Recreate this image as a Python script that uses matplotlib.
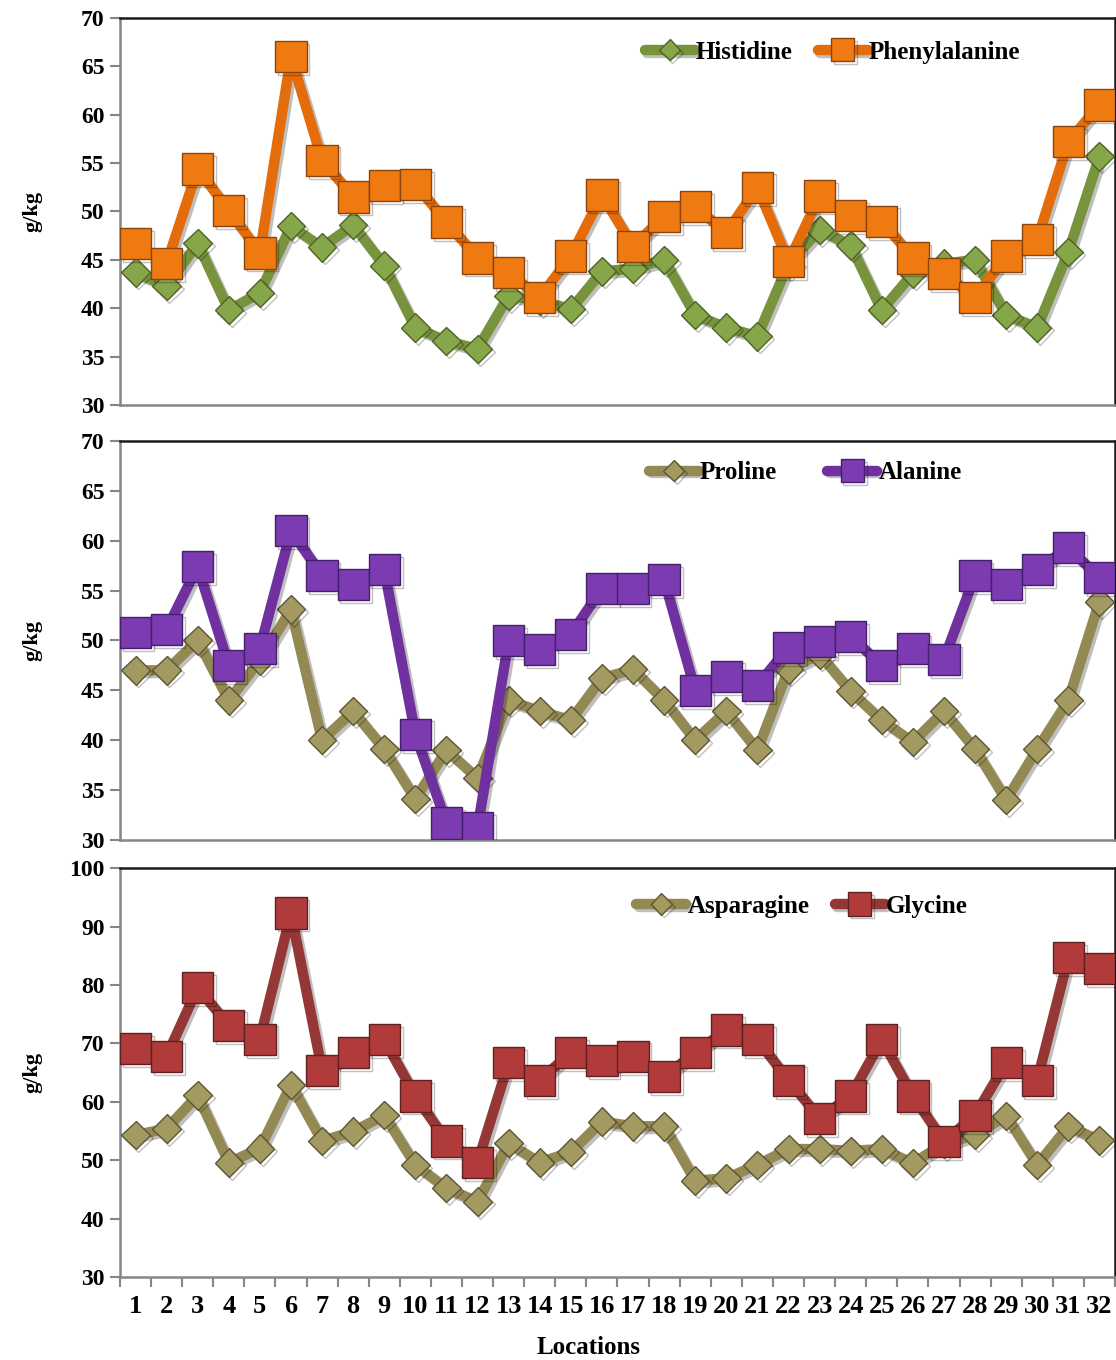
import numpy as np
import matplotlib.pyplot as plt
import matplotlib.patheffects as pe

locations = list(range(1, 33))

histidine = [43.7, 42.3, 46.7, 39.8, 41.6, 48.5, 46.3, 48.6, 44.4, 38.0, 36.6, 35.8,
             41.3, 40.8, 39.9, 43.8, 44.1, 45.0, 39.3, 38.0, 37.1, 44.6, 48.1, 46.5,
             39.8, 43.6, 44.6, 45.0, 39.3, 38.0, 45.8, 55.7]
phenylalanine = [46.7, 44.6, 54.4, 50.1, 45.7, 66.0, 55.3, 51.5, 52.7, 52.8, 48.9, 45.2,
                 43.7, 41.1, 45.4, 51.7, 46.4, 49.5, 50.5, 47.8, 52.5, 44.8, 51.6, 49.6,
                 49.0, 45.2, 43.6, 41.1, 45.4, 47.1, 57.2, 61.0]
proline = [47.0, 47.0, 50.0, 44.0, 48.0, 53.1, 40.0, 42.9, 39.1, 34.1, 39.0, 36.2,
           44.0, 42.9, 42.0, 46.2, 47.1, 44.0, 40.0, 42.9, 39.0, 47.1, 48.6, 44.9,
           42.0, 39.8, 42.9, 39.1, 34.0, 39.1, 44.0, 53.9]
alanine = [50.8, 51.1, 57.4, 47.5, 49.2, 61.0, 56.5, 55.6, 57.1, 40.6, 31.7, 31.2,
           50.0, 49.1, 50.6, 55.2, 55.2, 56.1, 45.0, 46.4, 45.5, 49.3, 49.9, 50.4,
           47.5, 49.2, 48.1, 56.5, 55.6, 57.1, 59.3, 56.3]
asparagine = [54.3, 55.4, 61.1, 49.6, 52.0, 62.9, 53.3, 54.9, 57.7, 49.2, 45.2, 42.9,
              52.9, 49.6, 51.4, 56.6, 55.8, 55.8, 46.5, 46.9, 49.2, 51.9, 51.9, 51.6,
              51.9, 49.5, 52.8, 54.3, 57.6, 49.2, 55.8, 53.4]
glycine = [69.1, 67.8, 79.5, 73.1, 70.7, 92.3, 65.4, 68.4, 70.6, 61.0, 53.3, 49.6,
           66.7, 63.7, 68.4, 67.1, 67.8, 64.3, 68.4, 72.3, 70.6, 63.7, 57.2, 61.0,
           70.6, 61.0, 53.2, 57.7, 66.7, 63.7, 84.7, 82.8]

# (line, face, edge)
green = ('#77933c', '#86a64a', '#4f6228')
orange = ('#e46c0a', '#f07a12', '#8a4308')
tan = ('#938953', '#a39a62', '#5e5633')
purple = ('#7030a0', '#7c3bb0', '#44206a')
red = ('#953735', '#b03b3a', '#5e2020')

plt.rcParams['font.family'] = ['Liberation Serif', 'DejaVu Serif']
plt.rcParams['font.weight'] = 'bold'

fig = plt.figure(figsize=(11.16, 13.6), dpi=100)
left, width = 0.1075, 0.8916
ax1 = fig.add_axes([left, 0.7022, width, 0.2846])
ax2 = fig.add_axes([left, 0.3824, width, 0.2934])
ax3 = fig.add_axes([left, 0.0610, width, 0.3007])

shadow = [pe.SimpleLineShadow(offset=(2, -2), alpha=0.25), pe.Normal()]


def draw_panel(ax, s1, name1, c1, s2, name2, c2, ylim, ystep, leg_xy, colsp):
    ax.plot(locations, s1, color=c1[0], lw=7.5, marker='D', ms=14.5,
            mfc=c1[1], mec=c1[2], mew=1, solid_capstyle='round',
            label=name1, path_effects=shadow, zorder=3)
    ax.plot(locations, s2, color=c2[0], lw=7.5, marker='s', ms=22.5,
            mfc=c2[1], mec=c2[2], mew=1, solid_capstyle='round',
            label=name2, path_effects=shadow, zorder=4)
    ax.set_xlim(0.5, 32.5)
    ax.set_ylim(*ylim)
    ax.set_yticks(np.arange(ylim[0], ylim[1] + 1, ystep))
    ax.tick_params(axis='y', labelsize=17, length=7, width=1.5, color='#868686', pad=4)
    for side in ['left', 'bottom']:
        ax.spines[side].set_color('#868686')
        ax.spines[side].set_linewidth(1.8)
    for side in ['top', 'right']:
        ax.spines[side].set_color('#1a1a1a')
        ax.spines[side].set_linewidth(1.8)
    ax.set_ylabel('g/kg', fontsize=16, fontweight='bold')
    ax.yaxis.set_label_coords(-0.078, 0.5)
    ax.legend(loc='center right', bbox_to_anchor=leg_xy, ncol=2, frameon=False,
              fontsize=18, handlelength=2.0, handletextpad=0.05, columnspacing=colsp,
              markerscale=0.75, borderpad=0, borderaxespad=0)


draw_panel(ax1, histidine, 'Histidine', green, phenylalanine, 'Phenylalanine', orange,
           (30, 70), 5, (0.905, 0.912), 1.0)
draw_panel(ax2, proline, 'Proline', tan, alanine, 'Alanine', purple,
           (30, 70), 5, (0.846, 0.92), 2.0)
draw_panel(ax3, asparagine, 'Asparagine', tan, glycine, 'Glycine', red,
           (30, 100), 10, (0.852, 0.907), 1.0)

for ax in [ax1, ax2]:
    ax.set_xticks([])

# category labels in the middle, tick marks between categories
ax3.set_xticks(locations)
ax3.set_xticklabels([str(i) for i in locations])
ax3.set_xticks(np.arange(0.5, 33, 1), minor=True)
ax3.tick_params(axis='x', which='major', length=0, labelsize=19, pad=13)
ax3.tick_params(axis='x', which='minor', length=7, width=1.5, color='#868686')
ax3.set_xlabel('Locations', fontsize=18, fontweight='bold')
ax3.xaxis.set_label_coords(0.471, -0.143)

fig.savefig('out.png', dpi=100)
